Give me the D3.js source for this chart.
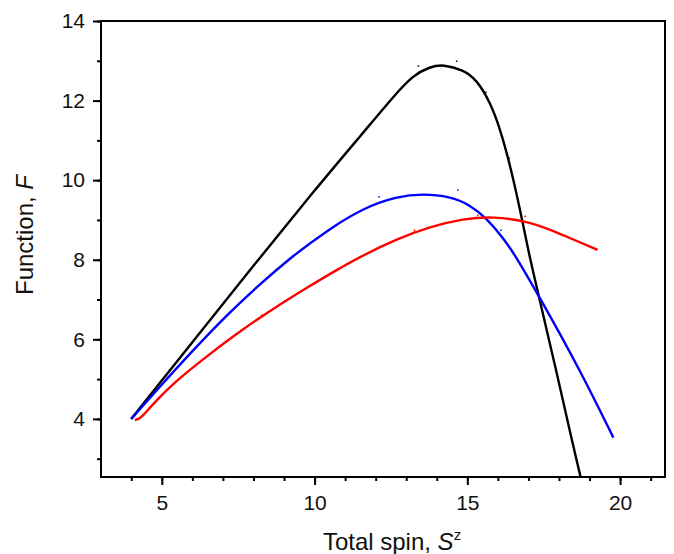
<!DOCTYPE html>
<html>
<head>
<meta charset="utf-8">
<script src="https://cdn.jsdelivr.net/npm/d3@7"></script>
<style>
  body { margin: 0; background: #fff; }
  text { font-family: "Liberation Sans", Arial, sans-serif; fill: #111; }
</style>
</head>
<body>
<div id="chart"></div>
<script>
// values
const blackX = [4.0, 6.0, 8.0, 10.0, 11.6, 12.6, 13.23, 13.78, 14.21, 14.87, 15.31, 15.74, 16.07, 16.4, 16.72, 17.0, 17.35, 17.93, 18.47, 18.75];
const blackY = [4.0, 5.93, 7.85, 9.75, 11.2, 12.12, 12.64, 12.85, 12.91, 12.77, 12.52, 11.97, 11.3, 10.38, 9.29, 8.2, 7.05, 5.15, 3.3, 2.4];

const blueX = [4.0, 4.89, 5.98, 7.07, 8.16, 9.25, 10.51, 11.6, 12.69, 13.56, 14.43, 15.09, 15.63, 16.18, 16.56, 17.32, 18.69, 19.78];
const blueY = [4.0, 4.77, 5.69, 6.57, 7.35, 8.08, 8.79, 9.3, 9.59, 9.66, 9.59, 9.38, 9.04, 8.54, 8.12, 7.12, 5.23, 3.53];

const redX = [4.12, 4.3, 4.45, 4.78, 5.44, 6.53, 7.62, 8.71, 9.8, 10.67, 11.6, 12.69, 13.78, 14.87, 15.85, 17.05, 18.14, 19.26];
const redY = [3.97, 4.02, 4.14, 4.43, 4.94, 5.61, 6.24, 6.8, 7.32, 7.72, 8.12, 8.52, 8.83, 9.03, 9.09, 8.96, 8.62, 8.25];

// tiny marker dots seen near the curves
const dotX = [13.40, 14.65, 15.61, 16.37, 14.69, 16.10, 12.11, 13.27, 15.34, 16.89, 8.28];
const dotY = [12.87, 12.99, 12.21, 10.55, 9.75, 8.74, 9.58, 8.74, 9.12, 9.09, 6.61];
const dotC = ['#000', '#000', '#000', '#000', '#00f', '#00f', '#00f', '#f00', '#f00', '#f00', '#f00'];

const xTicks = [5, 10, 15, 20];
const yTicks = [4, 6, 8, 10, 12, 14];

const width = 674, height = 554;
const margin = { left: 101, right: 9, top: 21, bottom: 77 };

const svg = d3.select('#chart').append('svg')
  .attr('width', width)
  .attr('height', height);

const x = d3.scaleLinear()
  .domain([3.01, 21.47])
  .range([margin.left, width - margin.right]);

const y = d3.scaleLinear()
  .domain([2.54, 14])
  .range([height - margin.bottom, margin.top]);

// clip curves to the plot frame
svg.append('clipPath')
  .attr('id', 'plotClip')
  .append('rect')
  .attr('x', margin.left)
  .attr('y', margin.top)
  .attr('width', width - margin.left - margin.right)
  .attr('height', height - margin.top - margin.bottom);

// basis smooths out the small reading errors
const line = d3.line()
  .x(d => x(d[0]))
  .y(d => y(d[1]))
  .curve(d3.curveBasis);

const series = [
  { xs: blackX, ys: blackY, color: '#000000' },
  { xs: blueX, ys: blueY, color: '#0000ff' },
  { xs: redX, ys: redY, color: '#ff0000' }
];

const plot = svg.append('g').attr('clip-path', 'url(#plotClip)');

plot.selectAll('path.curve')
  .data(series)
  .enter()
  .append('path')
  .attr('class', 'curve')
  .attr('d', s => line(s.xs.map((v, i) => [v, s.ys[i]])))
  .attr('fill', 'none')
  .attr('stroke', s => s.color)
  .attr('stroke-width', 2.4);

plot.selectAll('rect.dot')
  .data(dotX)
  .enter()
  .append('rect')
  .attr('class', 'dot')
  .attr('x', (d, i) => x(d) - 0.75)
  .attr('y', (d, i) => y(dotY[i]) - 0.75)
  .attr('width', 1.5)
  .attr('height', 1.5)
  .attr('fill', (d, i) => dotC[i]);

// frame
svg.append('rect')
  .attr('x', margin.left)
  .attr('y', margin.top)
  .attr('width', width - margin.left - margin.right)
  .attr('height', height - margin.top - margin.bottom)
  .attr('fill', 'none')
  .attr('stroke', '#000')
  .attr('stroke-width', 2);

// x axis: minor then major ticks
const xAxis = svg.append('g')
  .attr('transform', `translate(0, ${height - margin.bottom})`);

xAxis.call(d3.axisBottom(x).tickValues(d3.range(4, 22, 1)).tickSize(4).tickFormat(''));
xAxis.call(g => g.selectAll('.domain').remove());

const xMajor = svg.append('g')
  .attr('transform', `translate(0, ${height - margin.bottom})`)
  .call(d3.axisBottom(x).tickValues(xTicks).tickSize(8).tickPadding(10).tickFormat(d3.format('d')));
xMajor.select('.domain').remove();

// y axis
const yAxis = svg.append('g')
  .attr('transform', `translate(${margin.left}, 0)`);

yAxis.call(d3.axisLeft(y).tickValues(d3.range(3, 15, 1)).tickSize(4).tickFormat(''));
yAxis.call(g => g.selectAll('.domain').remove());

const yMajor = svg.append('g')
  .attr('transform', `translate(${margin.left}, 0)`)
  .call(d3.axisLeft(y).tickValues(yTicks).tickSize(8).tickPadding(8).tickFormat(d3.format('d')));
yMajor.select('.domain').remove();

svg.selectAll('.tick line').attr('stroke', '#000').attr('stroke-width', 2);
svg.selectAll('.tick text')
  .style('font-family', '"Liberation Sans", Arial, sans-serif')
  .style('font-size', '21px')
  .attr('fill', '#111');

// axis titles
const xTitle = svg.append('text')
  .attr('x', 392)
  .attr('y', 550)
  .attr('text-anchor', 'middle')
  .style('font-size', '24px');
xTitle.append('tspan').text('Total spin, ');
xTitle.append('tspan').style('font-style', 'italic').text('S');
xTitle.append('tspan').attr('dy', -10).style('font-size', '15px').text('z');

const yTitle = svg.append('text')
  .attr('transform', 'translate(33, 235) rotate(-90)')
  .attr('text-anchor', 'middle')
  .style('font-size', '24px');
yTitle.append('tspan').text('Function, ');
yTitle.append('tspan').style('font-style', 'italic').text('F');
</script>
</body>
</html>
